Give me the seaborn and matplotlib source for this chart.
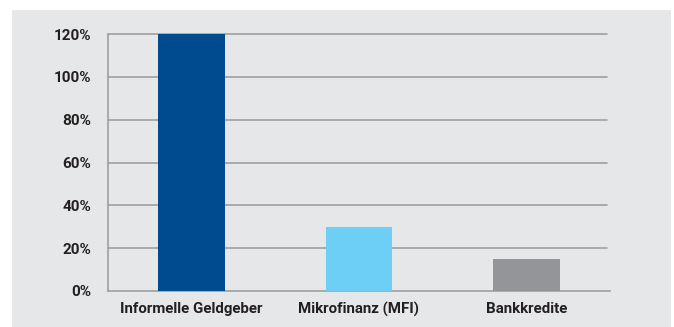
import matplotlib
matplotlib.use("Agg")
import matplotlib.pyplot as plt
import seaborn as sns
import pandas as pd
from matplotlib.patches import Rectangle
from matplotlib.ticker import FixedLocator, PercentFormatter

categories = ["Informelle Geldgeber", "Mikrofinanz (MFI)", "Bankkredite"]
values = [120, 30, 15]
colors = ["#004a8f", "#6dcff6", "#939598"]
yticks = [0, 20, 40, 60, 80, 100, 120]

sns.set_style("white")
plt.rcParams['font.family'] = ['Roboto', 'DejaVu Sans']

W, H = 674, 327
fig = plt.figure(figsize=(W / 100, H / 100), dpi=100)
fig.patch.set_facecolor("white")

bg = fig.add_axes([0, 0, 1, 1], zorder=-10)
bg.set_xlim(0, W)
bg.set_ylim(H, 0)
bg.axis("off")
bg.add_patch(Rectangle((12, 10), 671 - 12, H - 10, facecolor="#e6e7e8", edgecolor="none"))

left, right, top, bottom = 108, 610, 34, 291
ax = fig.add_axes([left / W, 1 - bottom / H, (right - left) / W, (bottom - top) / H])
ax.set_facecolor("none")

df = pd.DataFrame({"cat": categories, "val": values})
sns.barplot(data=df, x="cat", y="val", hue="cat", palette=colors, legend=False,
            width=0.4, ax=ax, saturation=1, zorder=3, linewidth=0)

ax.set_ylim(0, 120)
ax.set_xlim(-0.5, 2.5)
ax.set_yticks(yticks)
ax.yaxis.set_major_formatter(PercentFormatter(decimals=0))
ax.set_xlabel("")
ax.set_ylabel("")
for y in yticks[1:]:
    ax.axhline(y, xmin=0, xmax=(607 - left) / (right - left), color="#9d9fa2",
               lw=1.2, zorder=1, clip_on=False)
ax.xaxis.set_major_locator(FixedLocator([-0.5, 0.5, 1.5, 2.5]))
ax.xaxis.set_minor_locator(FixedLocator([0, 1, 2]))
ax.set_xticklabels(["", "", "", ""])
ax.set_xticklabels(categories, minor=True)
ax.tick_params(axis="x", which="major", length=5, width=1.2, color="#9d9fa2", direction="out")
ax.tick_params(axis="x", which="minor", length=0, pad=8, labelsize=10.8, labelcolor="#231f20")
ax.tick_params(axis="y", length=5, width=1.2, color="#9d9fa2", direction="out",
               labelsize=11, labelcolor="#231f20", pad=7)
for lab in ax.get_xticklabels(minor=True) + ax.get_yticklabels():
    lab.set_fontweight("bold")
for s in ["top", "right"]:
    ax.spines[s].set_visible(False)
for s in ["left", "bottom"]:
    ax.spines[s].set_color("#9d9fa2")
    ax.spines[s].set_linewidth(1.2)

fig.savefig("out.png", dpi=100, facecolor="white")
